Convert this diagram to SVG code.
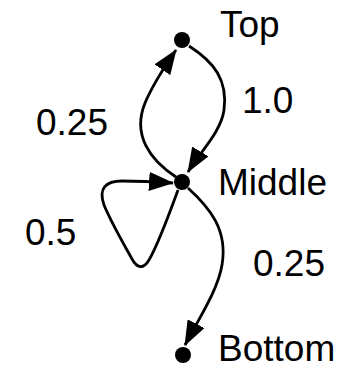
<svg xmlns="http://www.w3.org/2000/svg" width="344" height="369" viewBox="0 0 344 369">
<style>
.node{fill:#000}
.edge{fill:none;stroke:#000;stroke-width:2.8;marker-end:url(#arrow)}
text{font-family:"Liberation Sans",Arial,Helvetica,sans-serif;font-size:37px;fill:#000}
</style>
<defs>
<marker id="arrow" markerUnits="userSpaceOnUse" markerWidth="25" markerHeight="19" refX="24" refY="9.5" orient="auto" viewBox="0 0 25 19">
<path d="M0,0 L25,9.5 L0,19 z" fill="#000"/>
</marker>
</defs>
<rect width="344" height="369" fill="#fff"/>
<g id="connectors">
<path class="edge" d="M176,177 C150,160 132,135 145,103 C153,84 165,66 176,50"/>
<path class="edge" d="M189,46 C214,62 228,80 224,110 C221,132 200,152 188,172"/>
<path class="edge" d="M178,190 C170,212 156,248 149,260 C143,270 137,268 132,259 C122,241 111,222 104,205 C98,188 106,181 122,181 C140,181 158,182 173,183"/>
<path class="edge" d="M188,188 C210,208 228,230 222,265 C218,290 198,320 185,345"/>
</g>
<g id="node-top"><circle class="node" cx="182" cy="40" r="8"/><text x="220" y="37">Top</text></g>
<g id="node-middle"><circle class="node" cx="182" cy="182" r="8"/><text x="218" y="195">Middle</text></g>
<g id="node-bottom"><circle class="node" cx="183" cy="355" r="8"/><text x="218" y="361">Bottom</text></g>
<g id="labels">
<text x="36" y="135">0.25</text>
<text x="242" y="113">1.0</text>
<text x="25" y="245">0.5</text>
<text x="253" y="276">0.25</text>
</g>
</svg>
